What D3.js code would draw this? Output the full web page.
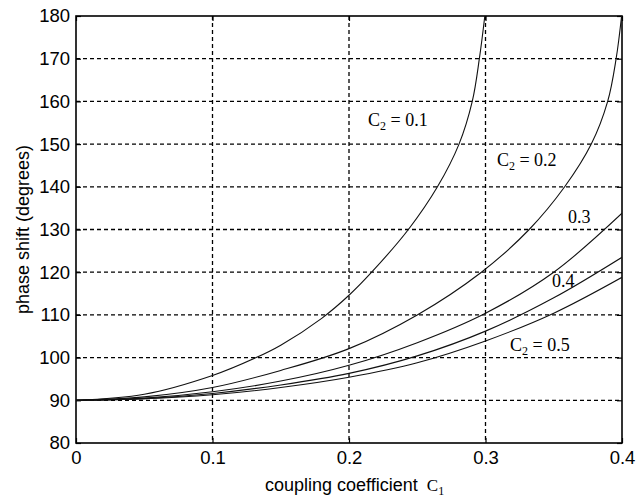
<!DOCTYPE html>
<html><head><meta charset="utf-8">
<script src="https://cdn.jsdelivr.net/npm/d3@7"></script>
<style>
html,body{margin:0;padding:0;background:#fff;}
svg{display:block;}
.tick text{font-family:"Liberation Sans",Arial,sans-serif;font-size:18.5px;fill:#000;}
</style>
</head><body>
<svg id="chart" width="644" height="498"></svg>
<script>
// ---- data ----
const xTicks = [0, 0.1, 0.2, 0.3, 0.4];
const yTicks = [80, 90, 100, 110, 120, 130, 140, 150, 160, 170, 180];

const c1_C2_01 = [0, 0.05, 0.1, 0.132, 0.15, 0.18, 0.2, 0.2166, 0.2435, 0.2648, 0.2806, 0.2903, 0.2955, 0.2995];
const phase_C2_01 = [90, 91.4, 95.8, 100, 102.9, 109.2, 114.6, 120, 130, 140, 150, 160, 170, 180];

const c1_C2_02 = [0, 0.05, 0.1, 0.15, 0.2, 0.25, 0.297, 0.332, 0.358, 0.3775, 0.3895, 0.3957, 0.3997];
const phase_C2_02 = [90, 90.8, 93.0, 97.0, 102.1, 110, 120, 130, 140, 150, 160, 170, 180];

const c1_common = [0, 0.05, 0.1, 0.15, 0.2, 0.25, 0.3, 0.35, 0.4];
const phase_C2_03 = [90, 90.5, 92.0, 94.5, 98.2, 103.5, 110.4, 120, 133.8];
const phase_C2_04 = [90, 90.4, 91.6, 93.6, 96.3, 100.4, 106.2, 114.0, 123.5];
const phase_C2_05 = [90, 90.35, 91.3, 93.0, 95.4, 98.8, 103.9, 110.4, 118.8];

const seriesList = [
  {x: c1_C2_01, y: phase_C2_01},
  {x: c1_C2_02, y: phase_C2_02},
  {x: c1_common, y: phase_C2_03},
  {x: c1_common, y: phase_C2_04},
  {x: c1_common, y: phase_C2_05}
];

// ---- layout ----
const svg = d3.select("#chart");
const L = 76, R = 622, T = 16, B = 443;
const x = d3.scaleLinear().domain([0, 0.4]).range([L, R]);
const y = d3.scaleLinear().domain([80, 180]).range([B, T]);

// grid
const grid = svg.append("g");
grid.selectAll("line.gx").data(xTicks.slice(1, -1)).enter().append("line")
  .attr("x1", d => x(d)).attr("x2", d => x(d)).attr("y1", T).attr("y2", B)
  .attr("stroke", "#000").attr("stroke-width", 1.3).attr("stroke-dasharray", "4,3");
grid.selectAll("line.gy").data(yTicks.slice(1, -1)).enter().append("line")
  .attr("y1", d => y(d)).attr("y2", d => y(d)).attr("x1", L).attr("x2", R)
  .attr("stroke", "#000").attr("stroke-width", 1.3).attr("stroke-dasharray", "4,3");

// axes (inward ticks)
const fmtX = d => d === 0 ? "0" : d3.format(".1f")(d);
svg.append("g").attr("transform", `translate(0,${B})`)
  .call(d3.axisBottom(x).tickValues(xTicks).tickFormat(fmtX).tickSizeInner(-5).tickSizeOuter(0).tickPadding(8))
  .call(g => g.select(".domain").remove())
  .call(g => g.selectAll("line").attr("stroke", "#000").attr("stroke-width", 1.2));
svg.append("g").attr("transform", `translate(${L},0)`)
  .call(d3.axisLeft(y).tickValues(yTicks).tickSizeInner(-5).tickSizeOuter(0).tickPadding(6))
  .call(g => g.select(".domain").remove())
  .call(g => g.selectAll("line").attr("stroke", "#000").attr("stroke-width", 1.2));
svg.append("g").attr("transform", `translate(0,${T})`)
  .call(d3.axisTop(x).tickValues(xTicks).tickFormat("").tickSizeInner(-5).tickSizeOuter(0))
  .call(g => g.select(".domain").remove())
  .call(g => g.selectAll("line").attr("stroke", "#000").attr("stroke-width", 1.2));
svg.append("g").attr("transform", `translate(${R},0)`)
  .call(d3.axisRight(y).tickValues(yTicks).tickFormat("").tickSizeInner(-5).tickSizeOuter(0))
  .call(g => g.select(".domain").remove())
  .call(g => g.selectAll("line").attr("stroke", "#000").attr("stroke-width", 1.2));

// frame
svg.append("rect").attr("x", L).attr("y", T).attr("width", R - L).attr("height", B - T)
  .attr("fill", "none").attr("stroke", "#000").attr("stroke-width", 1.6);

// curves
svg.append("clipPath").attr("id", "clip").append("rect")
  .attr("x", L).attr("y", T - 1).attr("width", R - L).attr("height", B - T + 1);
const line = d3.line().x(d => x(d[0])).y(d => y(d[1])).curve(d3.curveCatmullRom.alpha(0.5));
svg.append("g").attr("clip-path", "url(#clip)").selectAll("path").data(seriesList).enter().append("path")
  .attr("d", s => line(s.x.map((v, i) => [v, s.y[i]])))
  .attr("fill", "none").attr("stroke", "#111").attr("stroke-width", 1.1);

// annotations
const serif = '"Liberation Serif","Times New Roman",serif';
function c2label(px, py, val) {
  const t = svg.append("text").attr("x", px).attr("y", py)
    .attr("font-family", serif).attr("font-size", 18).attr("fill", "#000");
  t.append("tspan").text("C");
  t.append("tspan").attr("font-size", 12).attr("dy", 4).text("2");
  t.append("tspan").attr("dy", -4).text(" = " + val);
}
c2label(x(0.2139), y(154.2), "0.1");
c2label(x(0.3084), y(144.9), "0.2");
svg.append("text").attr("x", x(0.3604)).attr("y", y(131.5)).attr("font-family", serif)
  .attr("font-size", 18).attr("fill", "#000").text("0.3");
svg.append("text").attr("x", x(0.3487)).attr("y", y(116.5)).attr("font-family", serif)
  .attr("font-size", 18).attr("fill", "#000").text("0.4");
c2label(x(0.318), y(101.5), "0.5");

// axis labels
svg.append("text").attr("transform", `translate(29,${(T + B) / 2}) rotate(-90)`)
  .attr("text-anchor", "middle").attr("font-family", '"Liberation Sans",Arial,sans-serif')
  .attr("font-size", 18).attr("fill", "#000").text("phase shift (degrees)");
const xl = svg.append("text").attr("x", 265).attr("y", 491)
  .attr("font-family", '"Liberation Sans",Arial,sans-serif').attr("font-size", 18).attr("fill", "#000");
xl.append("tspan").text("coupling coefficient ");
xl.append("tspan").attr("font-family", serif).attr("font-size", 17).attr("dx", 4).text("C");
xl.append("tspan").attr("font-family", serif).attr("font-size", 12).attr("dy", 4).text("1");
</script>
</body></html>
